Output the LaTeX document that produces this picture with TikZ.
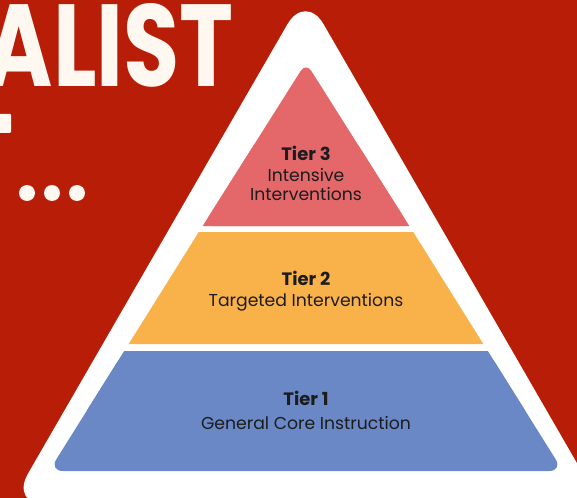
\documentclass[tikz,border=0pt]{standalone}
\usepackage{fontspec}
\setmainfont{Poppins}
\definecolor{bgred}{RGB}{183,29,7}
\definecolor{cream}{RGB}{255,248,240}
\definecolor{tierred}{RGB}{228,104,106}
\definecolor{tierorange}{RGB}{249,178,74}
\definecolor{tierblue}{RGB}{106,136,197}
\definecolor{textdark}{RGB}{28,28,30}
\begin{document}
\begin{tikzpicture}[x=1bp,y=-1bp,
  tiertitle/.style={font=\fontsize{18}{20}\selectfont\bfseries, text=textdark, anchor=base, inner sep=0pt},
  tiertext/.style={font=\fontsize{17.3}{20}\selectfont, text=textdark, anchor=base, inner sep=0pt},
  dotmark/.style={fill=cream}]
\useasboundingbox (0,0) rectangle (577,498);
\clip (0,0) rectangle (577,498);
% background
\fill[bgred] (0,0) rectangle (577,498);
% title fragments
\node[anchor=base east, inner sep=0pt, text=cream] (title) at (234,87)
  {\resizebox{248bp}{83bp}{\bfseries ALIST}};
\fill[cream, rounded corners=1bp] (-5,114) rectangle (11,133);
\fill[dotmark] (27,193) circle[radius=8bp];
\fill[dotmark] (52,193) circle[radius=8bp];
\fill[dotmark] (77,193) circle[radius=8bp];
% white triangle
\fill[white, rounded corners=36bp] (305.5,-7) -- (601.1,505) -- (9.9,505) -- cycle;
% tier 3
\fill[tierred, rounded corners=10bp] (306,62.5) -- (409.3,226) -- (202.7,226) -- cycle;
\fill[tierred] (253.9,145) -- (358.1,145) -- (409.3,226) -- (202.7,226) -- cycle;
% tier 2
\fill[tierorange] (198.8,232) -- (413.2,232) -- (483.3,344) -- (128.7,344) -- cycle;
% tier 1
\fill[tierblue, rounded corners=14bp] (124.2,351) -- (487.8,351) -- (563,471) -- (49,471) -- cycle;
\fill[tierblue] (124.2,351) -- (487.8,351) -- (525.4,411) -- (86.6,411) -- cycle;
% texts
\node[tiertitle] (t3) at (306,161) {Tier 3};
\node[tiertext] (t3a) at (306,182) {Intensive};
\node[tiertext] (t3b) at (306,201) {Interventions};
\node[tiertitle] (t2) at (306,285) {Tier 2};
\node[tiertext] (t2a) at (306,306) {Targeted Interventions};
\node[tiertitle] (t1) at (306,405) {Tier 1};
\node[tiertext] (t1a) at (306,429) {General Core Instruction};
\end{tikzpicture}
\end{document}
